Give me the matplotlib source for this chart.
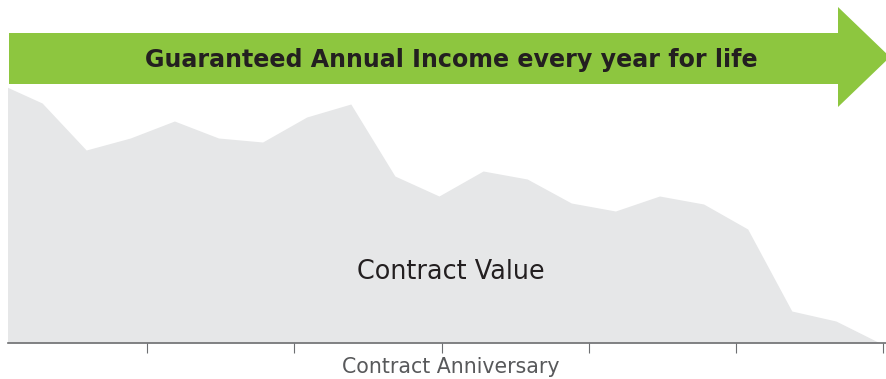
import numpy as np
import matplotlib.pyplot as plt
from matplotlib.patches import Polygon

# contract value, one point per period
# (first point sits just left of the visible area and gets clipped)
contract_value = [260, 240, 193, 205, 222, 205, 201, 226, 239, 167, 147,
                  172, 164, 140, 132, 147, 139, 114, 32, 22, 0]
anniversaries = [1, 2, 3, 4, 5, 6]
banner_text = 'Guaranteed Annual Income every year for life'
area_label = 'Contract Value'
x_label = 'Contract Anniversary'

green = '#8DC63F'
fill_grey = '#E6E7E8'
axis_grey = '#6D6E71'
dark = '#231F20'

W, H = 887, 379
PX = 147.2  # pixels per anniversary
fig = plt.figure(figsize=(W / 100, H / 100), dpi=100)

# axes spans pixel columns 8..887, bottom at row 343
ax = fig.add_axes([8 / W, (H - 343) / H, 1 - 8 / W, 343 / H])
xs = np.linspace(-2 / PX, 880 / PX, len(contract_value))
ax.fill_between(xs, contract_value, 0, color=fill_grey, lw=0)
ax.set_xlim(8 / PX, W / PX)
ax.set_ylim(0, 343)
for s in ['top', 'left', 'right']:
    ax.spines[s].set_visible(False)
ax.spines['bottom'].set_color(axis_grey)
ax.spines['bottom'].set_linewidth(1.2)
ax.set_yticks([])
ax.set_xticks(anniversaries)
ax.set_xticklabels([])
ax.tick_params(axis='x', length=7, width=0.8, color=axis_grey)

ax.text(451 / PX, 343 - 272, area_label, ha='center', va='center',
        fontsize=18.4, color=dark, family='DejaVu Sans')

# green banner arrow, drawn in figure pixel coords
def fp(x, y):
    return (x / W, (H - y) / H)

arrow = Polygon([fp(9, 33), fp(838, 33), fp(838, 7), fp(890, 57),
                 fp(838, 107), fp(838, 84), fp(9, 84)],
                closed=True, transform=fig.transFigure, color=green, lw=0)
fig.patches.append(arrow)
fig.text(451 / W, (H - 60) / H, banner_text, ha='center', va='center',
         fontsize=17.1, fontweight='bold', color=dark, family='DejaVu Sans')

fig.text(451 / W, (H - 367) / H, x_label, ha='center', va='center',
         fontsize=14.8, color='#58595B', family='DejaVu Sans')

fig.savefig('out.png', dpi=100)
